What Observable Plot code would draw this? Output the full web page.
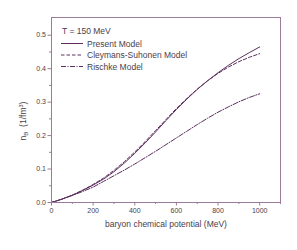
<!DOCTYPE html>
<html>
<head>
<meta charset="utf-8">
<script src="https://cdn.jsdelivr.net/npm/d3@7"></script>
<script src="https://cdn.jsdelivr.net/npm/@observablehq/plot@0.6"></script>
<style>
  html, body { margin: 0; padding: 0; background: #fff; }
  svg { display: block; }
</style>
</head>
<body>
<div id="chart"></div>
<script>
// baryon chemical potential (MeV)
const mu = [0,50,100,150,200,250,300,350,400,450,500,550,600,650,700,750,800,850,900,950,1000];
// baryon density n_B (1/fm^3)
const present   = [0,0.010,0.022,0.036,0.052,0.070,0.092,0.118,0.147,0.178,0.211,0.245,0.278,0.309,0.338,0.364,0.388,0.410,0.430,0.448,0.465];
const cleymans  = [0,0.010,0.022,0.037,0.054,0.073,0.096,0.122,0.151,0.182,0.215,0.248,0.281,0.311,0.339,0.364,0.386,0.405,0.421,0.434,0.445];
const rischke   = [0,0.010,0.021,0.033,0.046,0.063,0.080,0.097,0.115,0.134,0.153,0.173,0.193,0.213,0.233,0.252,0.270,0.286,0.301,0.314,0.325];

const seriesNames = ["Present Model", "Cleymans-Suhonen Model", "Rischke Model"];
const seriesValues = [present, cleymans, rischke];
const dashes = [null, "3.5,2", "5,1.5,1,1.5"];

const xMajor = [0,200,400,600,800,1000];
const xMinor = [100,300,500,700,900,1100];
const yMajor = [0,0.1,0.2,0.3,0.4,0.5];
const yMinor = [0.05,0.15,0.25,0.35,0.45];

const lineColor = "#5c2e5f";
const frameColor = "#9a7c9a";
const textColor = "#4a3d4a";
const font = "'Liberation Sans', Arial, sans-serif";

const rows = seriesNames.map((name, i) => mu.map((m, j) => ({mu: m, n: seriesValues[i][j], series: name})));

const plot = Plot.plot({
  width: 297,
  height: 250,
  marginLeft: 51,
  marginRight: 17,
  marginTop: 17,
  marginBottom: 48,
  style: {fontFamily: font, fontSize: "7px", color: textColor, background: "#fff"},
  x: {domain: [0, 1100]},
  y: {domain: [0, 0.553]},
  marks: [
    Plot.axisX({ticks: xMajor, tickSize: 3.5, tickPadding: 2, tickFormat: d => String(d), stroke: frameColor, fill: textColor, fontSize: 7, label: null}),
    Plot.axisX({ticks: xMinor, tickSize: 2, tickFormat: () => "", stroke: frameColor, label: null}),
    Plot.axisY({ticks: yMajor, tickSize: 3.5, tickPadding: 2, tickFormat: d3.format(".1f"), stroke: frameColor, fill: textColor, fontSize: 7, label: null}),
    Plot.axisY({ticks: yMinor, tickSize: 2, tickFormat: () => "", stroke: frameColor, label: null}),
    ...rows.map((r, i) => Plot.line(r, {x: "mu", y: "n", stroke: lineColor, strokeWidth: 1, strokeDasharray: dashes[i]})),
    Plot.frame({stroke: frameColor, strokeWidth: 1})
  ]
});

document.getElementById("chart").appendChild(plot);

// annotations: labels, title text and legend (layout only)
const svg = d3.select(plot);
const g = svg.append("g").attr("font-family", font).attr("fill", textColor).attr("text-anchor", "start");

g.append("text").attr("x", 166).attr("y", 227).attr("text-anchor", "middle")
  .attr("font-size", 8.5).text("baryon chemical potential (MeV)");

const yl = g.append("text").attr("transform", "translate(25.5,121) rotate(-90)")
  .attr("text-anchor", "middle").attr("font-size", 8.5);
yl.append("tspan").text("n");
yl.append("tspan").attr("font-size", 6).attr("dy", 2).text("B");
yl.append("tspan").attr("dy", -2).text("  (1/fm");
yl.append("tspan").attr("font-size", 5.5).attr("dy", -3).text("3");
yl.append("tspan").attr("dy", 3).text(")");

g.append("text").attr("x", 62).attr("y", 33.5).attr("text-anchor", "start").attr("font-size", 8.5).text("T = 150 MeV");

const legY = [43.5, 55, 66.5];
seriesNames.forEach((name, i) => {
  g.append("line").attr("x1", 61).attr("x2", 83).attr("y1", legY[i]).attr("y2", legY[i])
    .attr("stroke", lineColor).attr("stroke-width", 1)
    .attr("stroke-dasharray", dashes[i]);
  g.append("text").attr("x", 87).attr("y", legY[i] + 3).attr("text-anchor", "start").attr("font-size", 8.5).text(name);
});
</script>
</body>
</html>
